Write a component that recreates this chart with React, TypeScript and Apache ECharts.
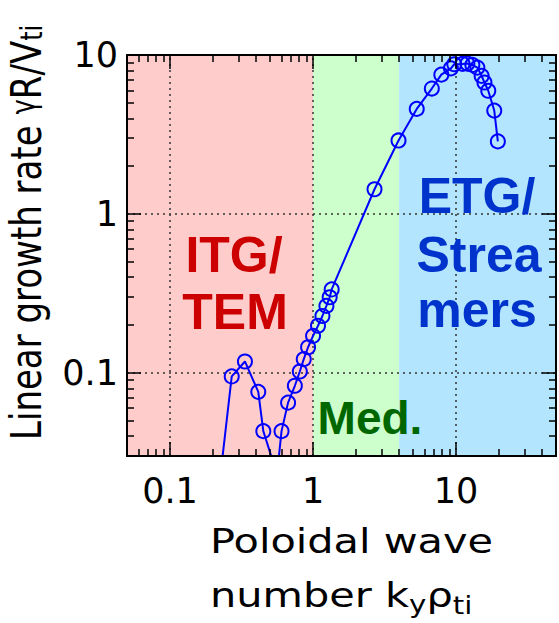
import React, { useEffect, useRef } from 'react';
import * as echarts from 'echarts';

// ---- data ----
const kyRho = [
  0.22, 0.27, 0.334, 0.414, 0.449, 0.56,
  0.602, 0.669, 0.746, 0.808, 0.861, 0.923, 1.0, 1.083, 1.163, 1.24, 1.307, 1.35,
  2.69, 3.96, 5.31, 6.77, 7.89, 9.21, 9.72, 11.1, 12.0, 13.0, 14.1, 15.1, 15.8, 16.8, 18.5, 19.6,
];
const growthRate = [
  0.019, 0.095, 0.118, 0.076, 0.043, 0.023,
  0.043, 0.065, 0.083, 0.102, 0.122, 0.145, 0.171, 0.198, 0.228, 0.264, 0.299, 0.335,
  1.43, 2.9, 4.58, 6.15, 7.52, 8.24, 8.75, 8.79, 8.83, 8.66, 8.33, 7.39, 6.71, 5.96, 4.47, 2.86,
];
const xRange = [0.05, 50];
const yRange = [0.03, 10];
const xTickLabels = [0.1, 1, 10];
const yTickLabels = [0.1, 1, 10];
const xGridValues = [0.1, 1, 10];
const yGridValues = [0.1, 1];
const regionBounds = [0.05, 1, 4, 50];
const regionColors = ['#ffcccc', '#ccffcc', '#b3e5ff'];
const itgLines = ['ITG/', 'TEM'];
const etgLines = ['ETG/', 'Strea', 'mers'];
const medLabel = 'Med.';

const AXIS_FONT = 'DejaVu Sans';
const BOLD_FONT = '"Liberation Sans", Arial, sans-serif';

function minorValues(lo: number, hi: number) {
  const out: number[] = [];
  for (let e = -3; e <= 2; e++) {
    for (let m = 2; m <= 9; m++) {
      const v = parseFloat((m * Math.pow(10, e)).toPrecision(6));
      if (v > lo * 1.001 && v < hi * 0.999) out.push(v);
    }
  }
  return out;
}

const fmt = (v: any) => String(parseFloat((+v).toPrecision(6)));

function makeAxis(dim: 'x' | 'y', position: string, range: number[], tickVals: number[], len: number, labelVals?: number[]) {
  const a: any = {
    type: 'log',
    logBase: 10,
    min: range[0],
    max: range[1],
    position,
    z: 10,
    axisLine: { show: true, onZero: false, lineStyle: { color: '#000', width: 2 } },
    axisTick: { show: true, inside: true, length: len, customValues: tickVals, lineStyle: { color: '#000', width: 1.5 } },
    axisLabel: { show: false },
    splitLine: { show: false },
    minorTick: { show: false },
    minorSplitLine: { show: false },
    axisPointer: { show: false },
  };
  if (labelVals) {
    a.axisLabel = {
      show: true,
      customValues: labelVals,
      formatter: fmt,
      color: '#000',
      fontSize: 35,
      fontFamily: AXIS_FONT,
      margin: dim === 'x' ? 17 : 9,
    };
  }
  return a;
}

type Seg = { text: string; size: number; dy?: number };

function textLine(segs: Seg[], x: number, y: number, extra: any) {
  const ctx = document.createElement('canvas').getContext('2d')!;
  let cx = 0;
  const children = segs.map((s) => {
    const font = `${s.size}px "${AXIS_FONT}"`;
    const el = {
      type: 'text',
      x: cx,
      y: s.dy || 0,
      z: 20,
      style: {
        text: s.text,
        font,
        fill: '#000',
        textAlign: 'left',
        textVerticalAlign: 'middle',
      },
    };
    ctx.font = font;
    cx += ctx.measureText(s.text).width;
    return el;
  });
  return { type: 'group', x, y, ...extra, children };
}

function boldText(text: string, x: number, y: number, size: number, color: string) {
  return {
    type: 'text',
    x,
    y,
    z: 6,
    style: {
      text,
      fill: color,
      fontSize: size,
      fontWeight: 'bold',
      fontFamily: BOLD_FONT,
      textAlign: 'center',
      textVerticalAlign: 'middle',
    },
  };
}

export default function App() {
  const ref = useRef<HTMLDivElement>(null);
  useEffect(() => {
    const chart = echarts.init(ref.current!, null, { renderer: 'svg' });
    const xMinor = minorValues(xRange[0], xRange[1]);
    const yMinor = minorValues(yRange[0], yRange[1]);
    const option: any = {
      animation: false,
      backgroundColor: '#fff',
      grid: { left: 127, right: 3, top: 55, bottom: 167, containLabel: false, outerBoundsMode: 'none' },
      xAxis: [
        makeAxis('x', 'bottom', xRange, xTickLabels, 14, xTickLabels),
        makeAxis('x', 'bottom', xRange, xMinor, 7),
        makeAxis('x', 'top', xRange, xTickLabels, 14),
        makeAxis('x', 'top', xRange, xMinor, 7),
      ],
      yAxis: [
        makeAxis('y', 'left', yRange, yTickLabels, 14, yTickLabels),
        makeAxis('y', 'left', yRange, yMinor, 7),
        makeAxis('y', 'right', yRange, yTickLabels, 14),
        makeAxis('y', 'right', yRange, yMinor, 7),
      ],
      series: [
        {
          type: 'line',
          xAxisIndex: 0,
          yAxisIndex: 0,
          data: kyRho.map((x, i) => [x, growthRate[i]]),
          symbol: 'circle',
          symbolSize: 14,
          showSymbol: true,
          showAllSymbol: true,
          itemStyle: { color: 'rgba(0,0,0,0)', borderColor: '#0000ff', borderWidth: 2 },
          lineStyle: { color: '#0000ff', width: 2 },
          clip: true,
          silent: true,
          z: 3,
          markArea: {
            silent: true,
            z: 1,
            data: regionColors.map((c, i) => [
              { xAxis: regionBounds[i], itemStyle: { color: c, opacity: 1, borderWidth: 0 } },
              { xAxis: regionBounds[i + 1] },
            ]),
          },
          markLine: {
            silent: true,
            z: 2,
            symbol: ['none', 'none'],
            label: { show: false },
            lineStyle: { color: '#333', width: 1.5, type: [2, 4], opacity: 1 },
            data: [
              ...xGridValues.map((v) => ({ xAxis: v })),
              ...yGridValues.map((v) => ({ yAxis: v })),
            ],
          },
        },
      ],
      graphic: [
        boldText(itgLines[0], 234, 255, 50, '#cc0000'),
        boldText(itgLines[1], 235, 312, 50, '#cc0000'),
        boldText(etgLines[0], 477, 196, 50, '#0033cc'),
        boldText(etgLines[1], 479, 255, 50, '#0033cc'),
        boldText(etgLines[2], 477, 310, 50, '#0033cc'),
        boldText(medLabel, 370, 418, 46, '#006600'),
        textLine([{ text: 'Poloidal wave', size: 34 }], 210, 541, { scaleX: 1.22 }),
        textLine(
          [
            { text: 'number k', size: 34 },
            { text: 'y', size: 24, dy: 9 },
            { text: 'ρ', size: 34 },
            { text: 'ti', size: 24, dy: 10 },
          ],
          210,
          595,
          { scaleX: 1.22 }
        ),
        textLine(
          [
            { text: 'Linear growth rate ', size: 34 },
            { text: 'γ', size: 26, dy: -2 },
            { text: 'R/V', size: 34 },
            { text: 'ti', size: 24, dy: 4 },
          ],
          26,
          440,
          { rotation: Math.PI / 2, scaleY: 1.28 }
        ),
      ],
    };
    chart.setOption(option);
    return () => chart.dispose();
  }, []);
  return <div ref={ref} style={{ position: 'absolute', left: 0, top: 0, width: 559, height: 623 }} />;
}
